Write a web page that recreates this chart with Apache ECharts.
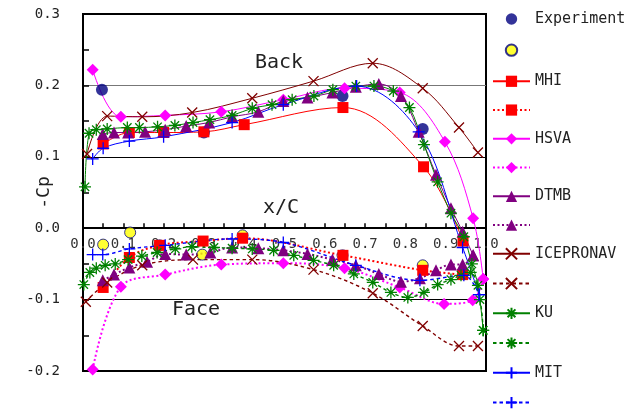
<!DOCTYPE html>
<html>
<head>
<meta charset="utf-8">
<script src="https://cdn.jsdelivr.net/npm/echarts@6/dist/echarts.min.js"></script>
<style>
  html, body { margin: 0; padding: 0; background: #fff; }
  #chart { width: 636px; height: 410px; }
</style>
</head>
<body>
<div id="chart"></div>
<script>
// Pressure distribution -Cp along the chord x/C, back (suction) and face (pressure) sides.
// Each array holds [x/C, -Cp] pairs.

const expBack = [[0.047, 0.194], [0.30, 0.134], [0.644, 0.185], [0.843, 0.139]];
const expFace = [[0.05, -0.023], [0.117, -0.006], [0.19, -0.024], [0.296, -0.037], [0.396, -0.010], [0.644, -0.038], [0.843, -0.052]];

const mhiBack = [[0.05, 0.118], [0.115, 0.134], [0.2, 0.134], [0.3, 0.135], [0.4, 0.145], [0.645, 0.169], [0.845, 0.086], [0.943, -0.018]];
const mhiFace = [[0.05, -0.083], [0.115, -0.041], [0.19, -0.024], [0.298, -0.018], [0.396, -0.014], [0.645, -0.038], [0.843, -0.059], [0.942, -0.065]];

const hsvaBack = [[0.024, 0.222], [0.094, 0.156], [0.204, 0.158], [0.343, 0.163], [0.497, 0.180], [0.649, 0.196], [0.786, 0.190], [0.898, 0.121], [0.968, 0.014], [0.993, -0.071]];
const hsvaFace = [[0.024, -0.198], [0.094, -0.082], [0.204, -0.065], [0.343, -0.051], [0.497, -0.049], [0.649, -0.056], [0.786, -0.083], [0.896, -0.106], [0.967, -0.101], [0.993, -0.071]];

const dtmbBack = [[0.049, 0.132], [0.077, 0.134], [0.112, 0.134], [0.154, 0.135], [0.204, 0.138], [0.256, 0.143], [0.313, 0.148], [0.37, 0.156], [0.435, 0.163], [0.497, 0.178], [0.557, 0.183], [0.619, 0.190], [0.677, 0.198], [0.734, 0.202], [0.789, 0.185], [0.833, 0.135], [0.876, 0.075], [0.913, 0.028], [0.942, -0.005], [0.968, -0.038]];
const dtmbFace = [[0.049, -0.073], [0.077, -0.065], [0.115, -0.055], [0.159, -0.047], [0.204, -0.036], [0.256, -0.037], [0.316, -0.034], [0.37, -0.027], [0.435, -0.028], [0.497, -0.031], [0.557, -0.036], [0.619, -0.044], [0.677, -0.052], [0.734, -0.064], [0.789, -0.075], [0.836, -0.070], [0.876, -0.059], [0.913, -0.051], [0.942, -0.051], [0.968, -0.038]];

const iceBack = [[0.01, 0.104], [0.06, 0.157], [0.147, 0.156], [0.271, 0.162], [0.42, 0.182], [0.572, 0.206], [0.719, 0.231], [0.843, 0.196], [0.933, 0.141], [0.98, 0.106]];
const iceFace = [[0.007, -0.103], [0.06, -0.076], [0.147, -0.052], [0.273, -0.044], [0.42, -0.044], [0.572, -0.058], [0.719, -0.091], [0.843, -0.137], [0.933, -0.165], [0.98, -0.165]];

const kuBack = [[0.005, 0.058], [0.015, 0.133], [0.033, 0.138], [0.06, 0.139], [0.11, 0.141], [0.14, 0.141], [0.185, 0.142], [0.228, 0.144], [0.273, 0.148], [0.315, 0.152], [0.37, 0.158], [0.42, 0.168], [0.469, 0.173], [0.519, 0.180], [0.573, 0.185], [0.62, 0.194], [0.677, 0.199], [0.722, 0.199], [0.77, 0.192], [0.81, 0.169], [0.846, 0.117], [0.88, 0.065], [0.913, 0.021], [0.945, -0.012], [0.965, -0.05], [0.98, -0.08], [0.993, -0.143]];
const kuFace = [[0.002, -0.079], [0.017, -0.062], [0.033, -0.056], [0.055, -0.052], [0.08, -0.050], [0.112, -0.044], [0.146, -0.039], [0.184, -0.034], [0.229, -0.029], [0.27, -0.026], [0.325, -0.027], [0.37, -0.028], [0.42, -0.029], [0.473, -0.031], [0.523, -0.038], [0.572, -0.045], [0.622, -0.052], [0.672, -0.064], [0.719, -0.076], [0.764, -0.090], [0.806, -0.097], [0.846, -0.090], [0.88, -0.079], [0.913, -0.072], [0.938, -0.066], [0.962, -0.062], [0.985, -0.1], [0.993, -0.143]];

const mitBack = [[0.024, 0.097], [0.05, 0.112], [0.115, 0.122], [0.2, 0.128], [0.37, 0.148], [0.497, 0.173], [0.679, 0.199], [0.833, 0.135], [0.942, -0.027], [0.983, -0.093]];
const mitFace = [[0.024, -0.037], [0.049, -0.037], [0.115, -0.029], [0.204, -0.024], [0.37, -0.015], [0.497, -0.020], [0.677, -0.052], [0.836, -0.073], [0.945, -0.066], [0.983, -0.093]];

const xTicks = { min: 0, max: 1, step: 0.1 };
const yTicks = { min: -0.2, max: 0.3, step: 0.1 };

const FONT = 'DejaVu Sans Mono';
const TEXT = '#222';

const SYM_X = 'path://M0,0L10,10M10,0L0,10';
const SYM_STAR = 'path://M0,5L10,5M5,0L5,10M1.5,1.5L8.5,8.5M8.5,1.5L1.5,8.5';
const SYM_PLUS = 'path://M0,5L10,5M5,0L5,10';
// legend dot: a small circle inside a 14x14 box, so the icon stays small
const LEGEND_DOT = 'path://M0,0M14,14M1.3,7A5.7,5.7 0 1,1 12.7,7A5.7,5.7 0 1,1 1.3,7Z';

const DOT = [2, 2.5];
const DASH = [3.5, 3];

function curve(name, data, color, symbol, size, dash, stroked) {
  return {
    name: name,
    type: 'line',
    data: data,
    smooth: 0.35,
    symbol: symbol,
    symbolSize: size,
    showAllSymbol: true,
    lineStyle: {
      color: color,
      width: dash ? (dash === DOT ? 2 : 1.4) : 1,
      type: dash || 'solid'
    },
    itemStyle: stroked
      ? { color: color, borderColor: color, borderWidth: 1.3 }
      : { color: color, borderWidth: 0 },
    emphasis: { disabled: true },
    z: 3
  };
}

const series = [
  {
    name: 'Experiment', type: 'scatter', data: expBack,
    symbol: 'circle', symbolSize: 12,
    itemStyle: { color: '#000080' }, z: 3
  },
  {
    name: 'Experiment Face', type: 'scatter', data: expFace,
    symbol: 'circle', symbolSize: 11,
    itemStyle: { color: '#FFFF00', borderColor: '#000080', borderWidth: 1 }, z: 3
  },
  curve('MHI', mhiBack, '#FF0000', 'rect', 11),
  curve('MHI Face', mhiFace, '#FF0000', 'rect', 11, DOT),
  curve('HSVA', hsvaBack, '#FF00FF', 'diamond', 12),
  curve('HSVA Face', hsvaFace, '#FF00FF', 'diamond', 12, DOT),
  curve('DTMB', dtmbBack, '#800080', 'triangle', 12),
  curve('DTMB Face', dtmbFace, '#800080', 'triangle', 12, DOT),
  curve('ICEPRONAV', iceBack, '#800000', SYM_X, 10, null, true),
  curve('ICEPRONAV Face', iceFace, '#800000', SYM_X, 10, DASH, true),
  curve('KU', kuBack, '#008000', SYM_STAR, 12, null, true),
  curve('KU Face', kuFace, '#008000', SYM_STAR, 12, DASH, true),
  curve('MIT', mitBack, '#0000FF', SYM_PLUS, 12, null, true),
  curve('MIT Face', mitFace, '#0000FF', SYM_PLUS, 12, DASH, true)
];

const chart = echarts.init(document.getElementById('chart'), null, { renderer: 'canvas' });

// zero line of the y scale, measured up from the bottom of the grid
const GRID_TOP = 14, GRID_BOTTOM = 39, GRID_H = 410 - GRID_TOP - GRID_BOTTOM;
const zeroOffset = -GRID_H * (0 - yTicks.min) / (yTicks.max - yTicks.min);

chart.setOption({
  animation: false,
  backgroundColor: '#fff',
  grid: {
    left: 83, right: 150, top: GRID_TOP, bottom: GRID_BOTTOM,
    outerBoundsMode: 'none',
    containLabel: false,
    show: true, borderColor: '#000', borderWidth: 2, backgroundColor: 'transparent'
  },
  legend: {
    orient: 'vertical',
    left: 492, top: 11.5,
    padding: 0,
    itemWidth: 37, itemHeight: 14, itemGap: 15.65,
    selectedMode: false,
    textStyle: { fontFamily: FONT, fontSize: 15, lineHeight: 14, color: TEXT },
    formatter: function (name) { return / Face$/.test(name) ? '' : name; },
    data: series.map(function (s) {
      return s.type === 'scatter' ? { name: s.name, icon: LEGEND_DOT } : s.name;
    })
  },
  xAxis: {
    type: 'value',
    position: 'bottom',
    offset: zeroOffset,
    min: xTicks.min, max: xTicks.max, interval: xTicks.step,
    axisLine: { onZero: false, lineStyle: { color: '#000', width: 2 } },
    axisTick: { inside: true, length: 5, lineStyle: { color: '#000', width: 1.5 } },
    minorTick: { show: true, splitNumber: 2, length: 5, lineStyle: { color: '#000', width: 1.5 } },
    axisLabel: {
      margin: 9, fontFamily: FONT, fontSize: 14, color: '#333',
      formatter: function (v) { return v.toFixed(1); }
    },
    splitLine: { show: false }
  },
  yAxis: {
    type: 'value',
    min: yTicks.min, max: yTicks.max, interval: yTicks.step,
    name: '-Cp', nameLocation: 'middle', nameGap: 30, nameRotate: 90,
    nameMoveOverlap: false,
    nameTextStyle: { fontFamily: FONT, fontSize: 18, color: TEXT },
    axisLine: { show: true, lineStyle: { color: '#000', width: 2 } },
    axisTick: { inside: true, length: 6, lineStyle: { color: '#000', width: 1.5 } },
    minorTick: { show: true, splitNumber: 2, length: 6, lineStyle: { color: '#000', width: 1.5 } },
    axisLabel: {
      margin: 23, fontFamily: FONT, fontSize: 14, color: TEXT,
      formatter: function (v) { return v.toFixed(1); }
    },
    splitLine: {
      show: true,
      lineStyle: { color: ['#000', '#000', '#000', '#000', '#777', '#000'], width: 1 }
    }
  },
  graphic: [
    { type: 'text', left: 255, top: 53, style: { text: 'Back', fontFamily: FONT, fontSize: 20, fill: TEXT } },
    { type: 'text', left: 263, top: 198, style: { text: 'x/C', fontFamily: FONT, fontSize: 20, fill: TEXT } },
    { type: 'text', left: 172, top: 300, style: { text: 'Face', fontFamily: FONT, fontSize: 20, fill: TEXT } }
  ],
  series: series
});
</script>
</body>
</html>
